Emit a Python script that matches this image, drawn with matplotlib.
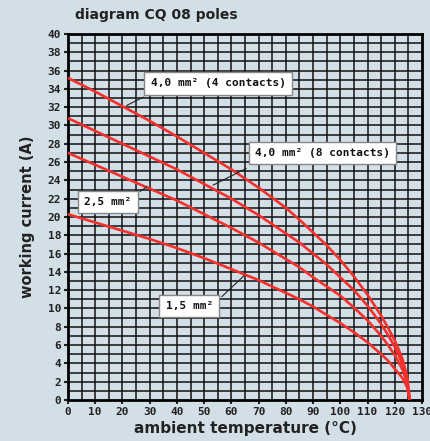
import numpy as np
import matplotlib.pyplot as plt

# ambient temperature (°C) and working current (A)
temp = [0, 10, 20, 30, 40, 50, 60, 70, 80, 85, 90, 95, 100, 105, 110, 115, 117.5, 120, 122, 123, 124.5, 125.5]
i_4mm_4c = [35.2, 33.7, 32.1, 30.5, 28.8, 27.0, 25.2, 23.2, 21.0, 19.7, 18.3, 16.9, 15.3, 13.5, 11.5, 9.2, 7.9, 6.5, 5.1, 4.3, 2.6, 0]
i_4mm_8c = [30.8, 29.4, 28.0, 26.6, 25.2, 23.6, 22.0, 20.2, 18.2, 17.2, 16.0, 14.8, 13.4, 12.0, 10.3, 8.3, 7.1, 5.8, 4.5, 3.8, 2.3, 0]
i_25mm = [27.0, 25.7, 24.4, 23.1, 21.8, 20.3, 18.8, 17.2, 15.4, 14.5, 13.4, 12.4, 11.4, 10.1, 8.7, 7.0, 6.0, 4.9, 3.8, 3.2, 1.9, 0]
i_15mm = [20.3, 19.4, 18.5, 17.6, 16.6, 15.5, 14.3, 13.1, 11.7, 11.0, 10.2, 9.3, 8.4, 7.4, 6.3, 5.0, 4.3, 3.4, 2.7, 2.3, 1.4, 0]

labels = ["4,0 mm² (4 contacts)", "4,0 mm² (8 contacts)", "2,5 mm²", "1,5 mm²"]
label_pos = [(55.1, 34.6), (93.4, 27.0), (14.7, 21.6), (44.5, 10.3)]
leader_from = [(27.7, 33.1), (65.4, 25.3), (26.5, 22.8), (56.5, 11.3)]
leader_to = [(21.6, 32.2), (53.4, 23.5), (28.9, 23.3), (64.7, 13.6)]

bg = '#d3dfe7'
red = '#f5302c'
mono = 'DejaVu Sans Mono'

fig = plt.figure(figsize=(4.31, 4.41), dpi=100, facecolor=bg)
ax = fig.add_axes([0.1578, 0.093, 0.8214, 0.8299], facecolor=bg)

# dense grid: every 5 °C and every 1 A
for x in np.arange(5, 130, 5):
    ax.axvline(x, color='#111111', lw=1.1, zorder=1)
for y in np.arange(1, 40, 1):
    ax.axhline(y, color='#111111', lw=1.1, zorder=1)

for vals in [i_4mm_4c, i_4mm_8c, i_25mm, i_15mm]:
    ax.plot(temp, vals, color=red, lw=1.9, zorder=3, solid_joinstyle='round')

for txt, pos, p0, p1 in zip(labels, label_pos, leader_from, leader_to):
    ax.plot([p0[0], p1[0]], [p0[1], p1[1]], color='#222222', lw=0.8, zorder=4)
    ax.text(pos[0], pos[1], txt, family=mono, fontweight='bold', fontsize=8,
            ha='center', va='center', zorder=5, color='#111111',
            bbox=dict(boxstyle='square,pad=0.55', fc='white', ec='#888888', lw=1))

ax.set_xlim(0, 130)
ax.set_ylim(0, 40)
ax.set_xticks(np.arange(0, 131, 10))
ax.set_yticks(np.arange(0, 41, 2))
for s in ax.spines.values():
    s.set_linewidth(2)
    s.set_color('black')
ax.tick_params(length=3, width=1.5, pad=2, colors='#222222')
for lab in ax.get_xticklabels() + ax.get_yticklabels():
    lab.set_family(mono)
    lab.set_fontweight('bold')
    lab.set_fontsize(8)

ax.set_xlabel("ambient temperature (°C)", fontsize=11, fontweight='bold', color='#222222', labelpad=3)
ax.set_ylabel("working current (A)", fontsize=10.5, fontweight='bold', color='#222222', labelpad=9)
fig.text(75 / 431, 1 - 15 / 441, "diagram CQ 08 poles", fontsize=10, fontweight='bold',
         color='#222222', ha='left', va='center')

fig.savefig('out.png', dpi=100, facecolor=bg)
